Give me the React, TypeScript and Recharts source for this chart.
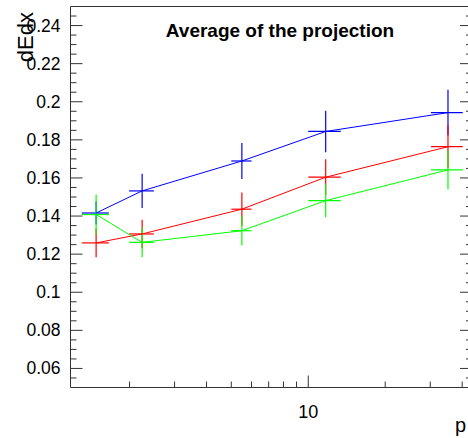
import { ScatterChart, Scatter, XAxis, YAxis, ErrorBar } from "recharts";

// momentum bins (centre, half width)
const momentum = [1.48, 2.24, 5.5, 11.7, 35.2];
const momentumErr = [0.18, 0.25, 0.5, 1.7, 5];

const blueMean = [0.1416, 0.1532, 0.1689, 0.1844, 0.1943];
const blueErr = [0.006, 0.009, 0.0094, 0.0109, 0.012];
const redMean = [0.1259, 0.1306, 0.1436, 0.1604, 0.1764];
const redErr = [0.0075, 0.0075, 0.0087, 0.0094, 0.0113];
const greenMean = [0.1408, 0.1262, 0.1323, 0.1481, 0.1642];
const greenErr = [0.0105, 0.0078, 0.0078, 0.0087, 0.0101];

const xTicks = [2, 3, 4, 5, 6, 7, 8, 9, 10, 20, 30, 40];
const xTickLabels = ["10"];
const yMajorTicks = [0.06, 0.08, 0.1, 0.12, 0.14, 0.16, 0.18, 0.2, 0.22, 0.24];
const yTickLabels = ["0.06", "0.08", "0.1", "0.12", "0.14", "0.16", "0.18", "0.2", "0.22", "0.24"];

const X_DOMAIN = [1.175, 43.7];
const Y_DOMAIN = [0.05, 0.25];

// minor ticks every 0.005
const yTicks: number[] = [];
for (let i = 11; i < 50; i++) yTicks.push(Math.round(i * 5) / 1000);

const axisColor = "#333";
const font = "'Liberation Sans', Arial, sans-serif";

const build = (means: number[], errs: number[]) =>
  momentum.map((p, i) => ({ p, pErr: momentumErr[i], v: means[i], vErr: errs[i] }));

const blueData = build(blueMean, blueErr);
const redData = build(redMean, redErr);
const greenData = build(greenMean, greenErr);

const yLabelFor = (value: number) => {
  const i = yMajorTicks.findIndex((t) => Math.abs(t - value) < 1e-6);
  return i >= 0 ? yTickLabels[i] : null;
};
const xIsMajor = (value: number) => value === 10;

const BottomTick = (props: any) => {
  const { x, y, payload } = props;
  const major = xIsMajor(payload.value);
  return (
    <g>
      <line x1={x} x2={x} y1={y} y2={y - (major ? 12 : 6)} stroke={axisColor} />
      {major && (
        <text x={x} y={y + 30} textAnchor="middle" fontFamily={font} fontSize={18} fill="#000">
          {xTickLabels[0]}
        </text>
      )}
    </g>
  );
};

const TopTick = (props: any) => {
  const { x, y, payload } = props;
  const major = xIsMajor(payload.value);
  return <line x1={x} x2={x} y1={y} y2={y + (major ? 12 : 6)} stroke={axisColor} />;
};

const LeftTick = (props: any) => {
  const { x, y, payload } = props;
  const label = yLabelFor(payload.value);
  return (
    <g>
      <line x1={x} x2={x + (label ? 12 : 6)} y1={y} y2={y} stroke={axisColor} />
      {label && (
        <text x={x - 10} y={y + 6} textAnchor="end" fontFamily={font} fontSize={17.5} fill="#000">
          {label}
        </text>
      )}
    </g>
  );
};

const RightTick = (props: any) => {
  const { x, y, payload } = props;
  const label = yLabelFor(payload.value);
  return <line x1={x} x2={x - (label ? 12 : 6)} y1={y} y2={y} stroke={axisColor} />;
};

const noMarker = () => <g />;

export default function App() {
  const series = [
    { data: blueData, color: "#0000ff" },
    { data: redData, color: "#ff0000" },
    { data: greenData, color: "#00ff00" }
  ];

  return (
    <div style={{ position: "fixed", left: 0, top: 0, width: 468, height: 438, overflow: "hidden", background: "#fff" }}>
      <ScatterChart
        width={480}
        height={438}
        margin={{ top: 0.5, right: 0, bottom: 0, left: 0.5 }}
      >
        <XAxis
          xAxisId="b"
          dataKey="p"
          type="number"
          scale="log"
          domain={X_DOMAIN}
          allowDataOverflow
          ticks={xTicks}
          interval={0}
          height={50.5}
          tickSize={0}
          tickMargin={0}
          tick={<BottomTick />}
          stroke={axisColor}
        />
        <XAxis
          xAxisId="t"
          orientation="top"
          type="number"
          scale="log"
          domain={X_DOMAIN}
          allowDataOverflow
          ticks={xTicks}
          interval={0}
          height={6}
          tickSize={0}
          tickMargin={0}
          tick={<TopTick />}
          stroke={axisColor}
        />
        <YAxis
          yAxisId="l"
          dataKey="v"
          type="number"
          domain={Y_DOMAIN}
          allowDataOverflow
          ticks={yTicks}
          interval={0}
          width={70}
          tickSize={0}
          tickMargin={0}
          tick={<LeftTick />}
          stroke={axisColor}
        />
        <YAxis
          yAxisId="r"
          orientation="right"
          type="number"
          domain={Y_DOMAIN}
          allowDataOverflow
          ticks={yTicks}
          interval={0}
          width={8}
          tickSize={0}
          tickMargin={0}
          tick={<RightTick />}
          stroke={axisColor}
        />
        {series.map((s, i) => (
          <Scatter
            key={i}
            xAxisId="b"
            yAxisId="l"
            data={s.data}
            dataKey="v"
            line={{ stroke: s.color, strokeWidth: 1 }}
            lineType="joint"
            shape={noMarker}
            fill={s.color}
            isAnimationActive={false}
          >
            <ErrorBar dataKey="pErr" direction="x" width={0} stroke={s.color} strokeWidth={1.2} isAnimationActive={false} />
            <ErrorBar dataKey="vErr" direction="y" width={0} stroke={s.color} strokeWidth={1.2} isAnimationActive={false} />
          </Scatter>
        ))}
      </ScatterChart>
      <svg width={468} height={438} style={{ position: "absolute", left: 0, top: 0, pointerEvents: "none" }}>
        <text x={280} y={36.5} textAnchor="middle" fontFamily={font} fontWeight="bold" fontSize={19} fill="#000">
          Average of the projection
        </text>
        <text
          x={33}
          y={12}
          textAnchor="end"
          transform="rotate(-90, 33, 12)"
          fontFamily={font}
          fontSize={22}
          fill="#000"
        >
          dEdx
        </text>
        <text x={466} y={432} textAnchor="end" fontFamily={font} fontSize={20} fill="#000">
          p
        </text>
      </svg>
    </div>
  );
}
